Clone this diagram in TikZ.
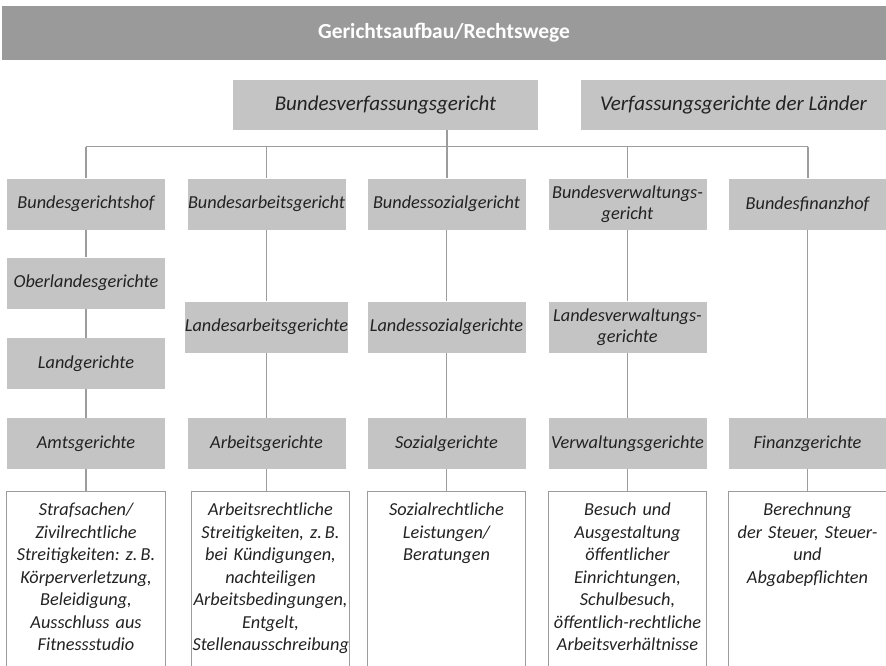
\documentclass[tikz,border=0pt]{standalone}
\usepackage{fontspec}
\setmainfont{Carlito}
\frenchspacing
\definecolor{hdr}{HTML}{9A9A9A}
\definecolor{boxg}{HTML}{C4C4C4}
\definecolor{lineg}{HTML}{9C9C9C}
\definecolor{txt}{HTML}{222222}
\tikzset{
  x=1pt,y=1pt,
  court/.style={fill=boxg, inner sep=0pt, minimum width=158pt, minimum height=51pt,
    align=center, text=txt, font=\fontsize{18.3}{21}\selectfont\itshape},
  topcourt/.style={fill=boxg, inner sep=0pt, minimum width=305pt, minimum height=50pt,
    align=center, text=txt, font=\fontsize{21}{24}\selectfont\itshape},
  desc/.style={anchor=north, inner xsep=1pt, inner ysep=12pt, text width=156pt,
    align=center, text=txt, font=\fontsize{18.3}{22.5}\selectfont\itshape},
  frame/.style={draw=lineg, line width=0.9pt},
  conn/.style={draw=lineg, line width=1.1pt},
}
\begin{document}
\begin{tikzpicture}
\useasboundingbox (0,0) rectangle (886,-665);
\clip (0,0) rectangle (886,-665);
% header
\node[fill=hdr, minimum width=884pt, minimum height=54pt, inner sep=0pt, text=white,
  font=\fontsize{21.5}{24}\selectfont\bfseries] (hdr) at (444,-33) {Gerichtsaufbau/Rechtswege};
% top courts
\node[topcourt] (bverfg) at (385.5,-105) {Bundesverfassungsgericht};
\node[topcourt] (lverfg) at (733.5,-105) {Verfassungsgerichte der Länder};
% junctions
\coordinate (j1) at (86,-146.5);
\coordinate (j2) at (266.5,-146.5);
\coordinate (j3) at (447,-146.5);
\coordinate (j4) at (627.5,-146.5);
\coordinate (j5) at (808,-146.5);
% column 1
\node[court] (bgh) at (86,-204) {Bundesgerichtshof};
\node[court] (olg) at (86,-283) {Oberlandesgerichte};
\node[court] (lg) at (86,-363.5) {Landgerichte};
\node[court] (ag) at (86,-443.5) {Amtsgerichte};
% column 2
\node[court] (bag) at (266.5,-204) {Bundesarbeitsgericht};
\node[court] (lag) at (266.5,-327) {Landesarbeitsgerichte};
\node[court] (arbg) at (266.5,-443.5) {Arbeitsgerichte};
% column 3
\node[court] (bsg) at (446.5,-204) {Bundessozialgericht};
\node[court] (lsg) at (446.5,-327) {Landessozialgerichte};
\node[court] (sg) at (446.5,-443.5) {Sozialgerichte};
% column 4
\node[court] (bverwg) at (627.5,-204) {Bundesverwaltungs-\\gericht};
\node[court] (ovg) at (627.5,-327) {Landesverwaltungs-\\gerichte};
\node[court] (vg) at (627.5,-443.5) {Verwaltungsgerichte};
% column 5
\node[court] (bfh) at (807.5,-204) {Bundesfinanzhof};
\node[court] (fg) at (807.5,-443.5) {Finanzgerichte};
% descriptions
\node[desc] (d1) at (86,-491) {Strafsachen/\\Zivilrechtliche\\Streitigkeiten: z.\,B.\\Körperverletzung,\\Beleidigung,\\Ausschluss aus\\Fitnessstudio};
\node[desc] (d2) at (270.5,-491) {Arbeitsrechtliche\\Streitigkeiten, z.\,B.\\bei Kündigungen,\\nachteiligen\\Arbeitsbedingungen,\\Entgelt,\\Stellenausschreibung};
\node[desc] (d3) at (446.5,-491) {Sozialrechtliche\\Leistungen/\\Beratungen};
\node[desc] (d4) at (627.5,-491) {Besuch und\\Ausgestaltung\\öffentlicher\\Einrichtungen,\\Schulbesuch,\\öffentlich-rechtliche\\Arbeitsverhältnisse};
\node[desc] (d5) at (807.5,-491) {Berechnung\\der Steuer, Steuer-\\und\\Abgabepflichten};
\foreach \d in {d1,d2,d3,d4,d5}{
  \draw[frame] (\d.north west |- 0,-670) -- (\d.north west) -- (\d.north east) -- (\d.north east |- 0,-670);
}
% connectors
\draw[conn] (j1) -- (j5);
\draw[conn] (bverfg.south -| j3) -- (j3);
\draw[conn] (j1) -- (bgh.north);
\draw[conn] (j2) -- (bag.north);
\draw[conn] (j3) -- (bsg.north -| j3);
\draw[conn] (j4) -- (bverwg.north);
\draw[conn] (j5) -- (bfh.north -| j5);
\draw[conn] (bgh) -- (olg);
\draw[conn] (olg) -- (lg);
\draw[conn] (lg) -- (ag);
\draw[conn] (ag) -- (d1);
\draw[conn] (bag) -- (lag);
\draw[conn] (lag) -- (arbg);
\draw[conn] (arbg.south) -- (arbg.south |- d2.north);
\draw[conn] (bsg) -- (lsg);
\draw[conn] (lsg) -- (sg);
\draw[conn] (sg) -- (d3);
\draw[conn] (bverwg) -- (ovg);
\draw[conn] (ovg) -- (vg);
\draw[conn] (vg) -- (d4);
\draw[conn] (bfh) -- (fg);
\draw[conn] (fg) -- (d5);
\end{tikzpicture}
\end{document}
